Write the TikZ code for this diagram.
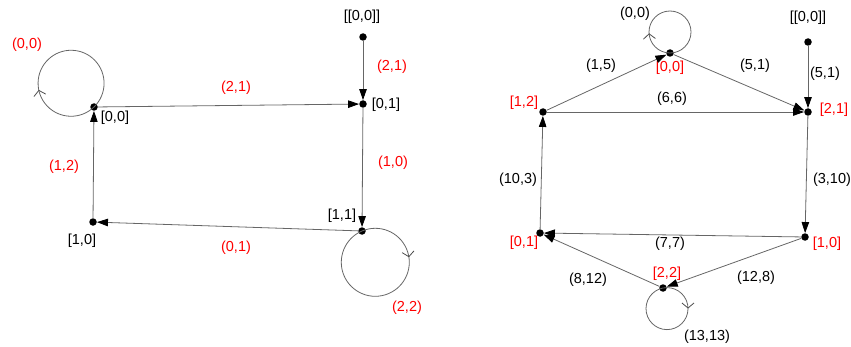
\documentclass[tikz,border=0pt]{standalone}
\usepackage{fontspec}
\setmainfont{Liberation Sans}
\usetikzlibrary{arrows.meta,decorations.markings}

\tikzset{
  dot/.style={circle, fill=black, inner sep=0pt, minimum size=7.5pt},
  trans/.style={draw=black!60, line width=0.8pt, -{Triangle[length=11pt,width=7.5pt,color=black]}},
  selfloop/.style={draw=black!60, line width=0.8pt, postaction={decorate},
    decoration={markings, mark=at position #1 with {\arrow[black!70]{Straight Barb[length=5pt,width=12pt]}}}},
  lbl/.style={font=\fontsize{14.5}{17}\selectfont, inner sep=1pt},
  redlbl/.style={lbl, text=red}
}

\begin{document}
\begin{tikzpicture}[x=1pt, y=1pt]
    \useasboundingbox (0,0) rectangle (851,346);
    % (a) left graph
    \node[dot] (l00) at (94,239) {};
    \node[dot] (l01) at (363,242) {};
    \node[dot] (lstart) at (363,309) {};
    \node[dot] (l11) at (362,115) {};
    \node[dot] (l10) at (93,124) {};
    \node[lbl] (l00txt) at (115,228) {[0,0]};
    \node[lbl] (l01txt) at (386,241) {[0,1]};
    \node[lbl] (lstarttxt) at (362,329) {[[0,0]]};
    \node[lbl] (l11txt) at (342,130) {[1,1]};
    \node[lbl] (l10txt) at (82,105) {[1,0]};
    \draw[trans] (lstart) -- (l01);
    \draw[trans] (l00) -- (l01);
    \draw[trans] (l01) -- (l11);
    \draw[trans] (l11) -- (l10);
    \draw[trans] (l10) -- (l00);
    \draw[selfloop=0.34] (l00.center) arc[start angle=-46, delta angle=-360, radius=33];
    \draw[selfloop=0.29] (l11.center) arc[start angle=113, delta angle=-360, radius=34];
    \node[redlbl] (la) at (392,279) {(2,1)};
    \node[redlbl] (lb) at (236,258) {(2,1)};
    \node[redlbl] (lc) at (393,183) {(1,0)};
    \node[redlbl] (ld) at (236,98) {(0,1)};
    \node[redlbl] (le) at (64,179) {(1,2)};
    \node[redlbl] (lf) at (27,301) {(0,0)};
    \node[redlbl] (lg) at (407,38) {(2,2)};
    % (b) right graph
    \node[dot] (r00) at (670,293) {};
    \node[dot] (rstart) at (808,304) {};
    \node[dot] (r21) at (808,234) {};
    \node[dot] (r12) at (543,234) {};
    \node[dot] (r01) at (540,113) {};
    \node[dot] (r10) at (805,109) {};
    \node[dot] (r22) at (663,58) {};
    \node[redlbl] (r00txt) at (670,278) {[0,0]};
    \node[lbl] (rstarttxt) at (808,328) {[[0,0]]};
    \node[redlbl] (r21txt) at (834,236) {[2,1]};
    \node[redlbl] (r12txt) at (524,243) {[1,2]};
    \node[redlbl] (r01txt) at (524,103) {[0,1]};
    \node[redlbl] (r10txt) at (827,102) {[1,0]};
    \node[redlbl] (r22txt) at (667,72) {[2,2]};
    \draw[trans] (r12) -- (r00);
    \draw[trans] (r00) -- (r21);
    \draw[trans] (r12) -- (r21);
    \draw[trans] (rstart) -- (r21);
    \draw[trans] (r21) -- (r10);
    \draw[trans] (r01) -- (r12);
    \draw[trans] (r10) -- (r01);
    \draw[trans] (r22) -- (r01);
    \draw[trans] (r10) -- (r22);
    \draw[selfloop=0.24] (r00.center) arc[start angle=-90, delta angle=-360, radius=21];
    \draw[selfloop=0.28] (r22.center) arc[start angle=101, delta angle=-360, radius=21];
    \node[lbl] (ra) at (601,280) {(1,5)};
    \node[lbl] (rb) at (755,280) {(5,1)};
    \node[lbl] (rc) at (672,247) {(6,6)};
    \node[lbl] (rd) at (825,272) {(5,1)};
    \node[lbl] (re) at (832,166) {(3,10)};
    \node[lbl] (rf) at (518,166) {(10,3)};
    \node[lbl] (rg) at (670,102) {(7,7)};
    \node[lbl] (rh) at (588,66) {(8,12)};
    \node[lbl] (ri) at (756,68) {(12,8)};
    \node[lbl] (rj) at (635,332) {(0,0)};
    \node[lbl] (rk) at (707,9) {(13,13)};
  \end{tikzpicture}
\end{document}
